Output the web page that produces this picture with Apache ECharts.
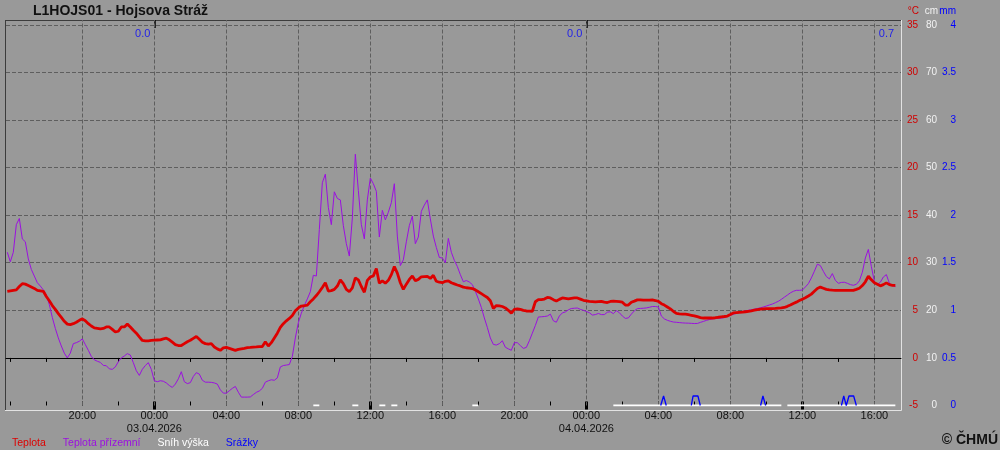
<!DOCTYPE html>
<html><head><meta charset="utf-8">
<script src="https://cdn.jsdelivr.net/npm/echarts@6/dist/echarts.min.js"></script>
<style>html,body{margin:0;padding:0;background:#999999}#c{width:1000px;height:450px}</style>
</head><body><div id="c"></div>
<script>
// time in hours relative to 03.04.2026 00:00; first reading 02.04.2026 15:50, every 10 min
const startHour = -8 - 10 / 60;
const stepHours = 10 / 60;

const tempAir = [
  7.0, 7.05, 7.1, 7.15, 7.5, 7.8, 7.75, 7.6, 7.45, 7.3, 7.1, 7.05,
  7.0, 6.45, 6.0, 5.5, 5.1, 4.65, 4.25, 3.85, 3.55, 3.5, 3.6, 3.75,
  3.95, 4.1, 3.9, 3.6, 3.35, 3.15, 3.1, 3.05, 3.1, 3.25, 3.25, 3.0,
  2.72, 2.8, 3.25, 3.25, 3.55, 3.25, 2.9, 2.6, 2.2, 1.83, 1.78, 1.8,
  1.84, 1.86, 1.88, 1.9, 2.0, 2.07, 1.9, 1.65, 1.4, 1.3, 1.3, 1.5,
  1.7, 1.85, 2.05, 2.25, 1.95, 1.65, 1.5, 1.45, 1.5, 1.15, 0.95, 0.8,
  1.05, 1.1, 1.0, 0.9, 0.8, 0.9, 0.95, 1.0, 1.07, 1.1, 1.14, 1.15,
  1.18, 1.2, 1.7, 1.25, 1.6, 2.1, 2.6, 3.2, 3.6, 3.9, 4.15, 4.45,
  4.95, 5.25, 5.45, 5.48, 5.55, 5.9, 6.2, 6.55, 6.95, 7.4, 7.9, 7.03,
  7.07, 7.2, 7.55, 8.2, 7.8, 7.2, 6.95, 7.35, 8.4, 8.2, 7.5, 6.9,
  8.15, 8.5, 8.62, 9.4, 7.85, 8.1, 7.85, 8.15, 8.75, 9.6, 8.9, 7.9,
  7.2, 7.75, 8.25, 8.6, 8.1, 8.25, 8.52, 8.55, 8.57, 8.35, 8.68, 8.05,
  7.95, 7.9, 8.05, 8.1, 7.9, 7.78, 7.66, 7.56, 7.44, 7.37, 7.33, 7.29,
  7.15, 6.95, 6.75, 6.55, 6.35, 6.0, 5.2, 5.5, 5.47, 5.4, 5.25, 5.0,
  4.7, 5.1, 5.15, 5.1, 5.0, 4.93, 4.92, 4.9, 5.9, 6.12, 6.12, 6.18,
  6.35, 6.3, 6.12, 5.97, 6.15, 6.3, 6.25, 6.2, 6.25, 6.3, 6.3, 6.18,
  6.05, 6.0, 5.95, 5.92, 5.88, 5.92, 5.95, 5.87, 5.82, 5.93, 5.97, 5.95,
  5.92, 5.85, 5.55, 5.55, 5.85, 5.97, 6.1, 6.1, 6.07, 6.06, 6.08, 6.1,
  6.03, 5.95, 5.7, 5.55, 5.35, 5.15, 4.9, 4.67, 4.63, 4.61, 4.59, 4.54,
  4.48, 4.42, 4.33, 4.23, 4.19, 4.19, 4.19, 4.19, 4.22, 4.27, 4.31, 4.35,
  4.4, 4.55, 4.72, 4.75, 4.78, 4.81, 4.85, 4.9, 4.95, 5.02, 5.08, 5.12,
  5.16, 5.18, 5.18, 5.18, 5.2, 5.23, 5.26, 5.3, 5.42, 5.55, 5.72, 5.86,
  6.02, 6.17, 6.32, 6.5, 6.7, 7.0, 7.3, 7.44, 7.32, 7.2, 7.15, 7.12,
  7.1, 7.1, 7.1, 7.1, 7.1, 7.1, 7.1, 7.2, 7.32, 7.6, 8.0, 8.58,
  8.2, 7.9, 7.73, 7.57, 7.7, 7.88, 7.7, 7.63, 7.63
];

const tempGround = [
  11.1, 10.1, 11.1, 14.0, 14.65, 12.5, 12.2, 10.4, 9.3, 8.6, 7.9, 7.55,
  7.15, 6.6, 5.6, 4.25, 3.1, 2.1, 1.25, 0.5, 0.0, 0.5, 1.5, 1.6,
  1.75, 2.0, 1.4, 0.8, 0.15, -0.2, -0.35, -0.47, -0.79, -0.82, -1.15, -1.2,
  -0.95, -0.4, 0.0, 0.2, 0.45, 0.3, -0.5, -1.35, -1.84, -1.2, -0.8, -0.5,
  -1.2, -2.4, -2.5, -2.4, -2.45, -2.63, -2.9, -3.1, -2.75, -2.2, -1.45, -2.5,
  -2.7, -2.6, -1.95, -1.55, -1.7, -2.35, -2.55, -2.55, -2.57, -2.63, -2.75, -3.35,
  -3.7, -3.7, -3.45, -3.2, -3.0, -3.6, -4.12, -4.12, -4.12, -4.1, -3.85, -3.62,
  -3.47, -3.2, -2.55, -2.4, -2.3, -2.35, -2.1, -0.95, -0.8, -0.75, -0.7, 0.15,
  2.1, 3.7, 4.7, 5.5, 6.2, 6.95, 8.68, 8.6, 13.5, 18.4, 19.3, 15.8,
  14.0, 17.45, 16.75, 16.6, 13.9, 12.0, 10.7, 14.7, 21.4, 17.6, 14.0, 12.5,
  16.6, 18.9, 18.3, 17.5, 12.7, 15.5, 14.5, 15.3, 16.3, 18.3, 12.8, 9.7,
  10.3, 12.2, 13.9, 14.9, 12.0, 12.7, 15.4, 16.05, 16.6, 14.6, 12.8, 11.6,
  10.55, 10.5, 10.0, 12.55, 11.1, 10.25, 9.6, 8.75, 8.0, 8.13, 7.97, 7.7,
  7.0, 6.2, 5.3, 4.2, 3.2, 2.1, 1.42, 1.35, 1.5, 1.8, 1.12, 0.95,
  0.8, 1.6, 1.6, 1.3, 1.0, 1.1, 1.8, 2.6, 3.4, 4.3, 4.32, 4.35,
  4.4, 4.6, 3.9, 3.75, 4.4, 4.73, 4.83, 5.05, 5.19, 5.22, 5.24, 5.1,
  5.0, 4.88, 4.75, 4.5, 4.55, 4.67, 4.55, 4.55, 4.8, 4.85, 4.65, 4.97,
  4.75, 4.4, 4.15, 4.2, 4.6, 4.95, 5.18, 5.2, 5.22, 5.25, 5.32, 5.4,
  5.4, 5.35, 4.4, 4.1, 3.95, 3.85, 3.77, 3.74, 3.71, 3.68, 3.66, 3.65,
  3.63, 3.61, 3.62, 3.73, 3.83, 3.94, 4.03, 4.1, 4.13, 4.15, 4.18, 4.23,
  4.36, 4.48, 4.58, 4.68, 4.77, 4.87, 4.93, 5.0, 5.06, 5.12, 5.19, 5.26,
  5.35, 5.45, 5.56, 5.66, 5.8, 5.95, 6.15, 6.38, 6.6, 6.83, 7.0, 7.1,
  7.1, 7.13, 7.45, 7.8, 8.4, 9.1, 9.85, 9.7, 9.1, 8.55, 8.3, 8.86,
  8.15, 7.84, 7.93, 7.95, 7.84, 7.7, 7.63, 7.73, 8.1, 9.0, 10.5, 11.4,
  9.6, 8.05, 7.73, 7.95, 8.5, 8.75, 7.85, 7.6, 7.5
];

// snow depth readings (cm) available only in these periods [from, to] (hours)
const snowPeriods = [[8.8333, 9.1667], [11.0, 11.3333], [12.5, 12.8333], [13.1667, 13.5],
  [17.6667, 18.0], [25.5, 34.8333], [35.1667, 41.1667]];
const snowDepthCm = [0, 0, 0, 0, 0, 0, 0];

// precipitation (mm), null separates events
const precipTimes = [28.13, 28.29, 28.44, null, 29.83, 29.93, 30.2, 30.33, null,
  33.68, 33.81, 33.96, null, 38.17, 38.3, 38.44, 38.59, 38.85, 39.0];
const precipMm = [0, 0.1, 0, null, 0, 0.1, 0.1, 0, null,
  0, 0.1, 0, null, 0, 0.1, 0, 0.1, 0.1, 0];

// daily precipitation totals (mm)
const dayTotalHours = [0, 24, 41.32];
const dayTotalMm = [0.0, 0.0, 0.7];

const xMin = -8.24, xMax = 41.48;
const xTickHours = [-8, -6, -4, -2, 0, 2, 4, 6, 8, 10, 12, 14, 16, 18, 20, 22, 24, 26, 28, 30, 32, 34, 36, 38, 40];
const xMajorTickHours = [0, 12, 24, 36];
const xDayHours = [0, 24];
const xLabelHours = [-4, 0, 4, 8, 12, 16, 20, 24, 28, 32, 36, 40];
const xLabelTexts = ['20:00', '00:00\n03.04.2026', '04:00', '08:00', '12:00', '16:00',
  '20:00', '00:00\n04.04.2026', '04:00', '08:00', '12:00', '16:00'];
const yGridTemps = [5, 10, 15, 20, 25, 30, 35];

const FONT = 'Liberation Sans';
const C_RED = '#dd0000', C_PUR = '#9b10e0', C_WHITE = '#ffffff', C_BLUE = '#0000ff';

const toXY = arr => arr.map((v, i) => [startHour + i * stepHours, v]);
const snowData = [];
snowPeriods.forEach((p, k) => {
  const n = Math.round((p[1] - p[0]) / stepHours);
  for (let i = 0; i <= n; i++) snowData.push([p[0] + i * stepHours, snowDepthCm[k]]);
  snowData.push([p[1], '-']);
});
const precipData = precipTimes.map((t, i) => t === null ? [precipTimes[i - 1], '-'] : [t, precipMm[i]]);

function xLabelFmt(v) {
  const i = xLabelHours.findIndex(h => Math.abs(h - v) < 1e-6);
  return i >= 0 ? xLabelTexts[i] : '';
}
const baseX = {type: 'value', min: xMin, max: xMax, gridIndex: 0, splitLine: {show: false}};
const hiddenAxis = (extra) => Object.assign({}, baseX, {
  position: 'bottom', axisLine: {show: false}, axisLabel: {show: false}
}, extra);

const chart = echarts.init(document.getElementById('c'), null, {renderer: 'canvas'});
chart.setOption({
  animation: false,
  backgroundColor: '#999999',
  textStyle: {fontFamily: FONT},
  title: {text: 'L1HOJS01 - Hojsova Stráž', left: 33, top: 4, padding: 0,
    textStyle: {fontFamily: FONT, fontSize: 14, fontWeight: 'bold', color: '#111'}},
  legend: {
    left: 2, top: 433, itemWidth: 0, itemHeight: 0, itemGap: 12, selectedMode: false, icon: 'none',
    textStyle: {fontFamily: FONT, fontSize: 10.5},
    data: [
      {name: 'Teplota', textStyle: {color: C_RED}},
      {name: 'Teplota přízemní', textStyle: {color: C_PUR}},
      {name: 'Sníh výška', textStyle: {color: C_WHITE}},
      {name: 'Srážky', textStyle: {color: C_BLUE}}
    ]
  },
  grid: {left: 6, right: 99, top: 20, bottom: 44.5, containLabel: false},
  xAxis: [
    Object.assign({}, baseX, {
      position: 'bottom',
      axisLine: {show: true, lineStyle: {color: '#000', width: 1}},
      axisTick: {show: true, customValues: xTickHours, length: 4, inside: false, lineStyle: {color: '#000', width: 1}},
      axisLabel: {show: true, customValues: xLabelHours, formatter: xLabelFmt, margin: 4,
        fontFamily: FONT, fontSize: 11, lineHeight: 13, color: '#111'}
    }),
    hiddenAxis({axisTick: {show: true, customValues: xTickHours, length: 4, inside: true, lineStyle: {color: '#000', width: 1}}}),
    hiddenAxis({axisTick: {show: true, customValues: xMajorTickHours, length: 4, inside: true, lineStyle: {color: '#000', width: 3}}}),
    hiddenAxis({axisTick: {show: true, customValues: xMajorTickHours, length: 4, inside: false, lineStyle: {color: '#000', width: 3}}}),
    Object.assign({}, baseX, {position: 'top', axisLine: {show: false}, axisLabel: {show: false},
      axisTick: {show: true, customValues: xDayHours, length: 8, inside: true, lineStyle: {color: '#000', width: 1.5}}})
  ],
  yAxis: [
    {type: 'value', position: 'right', min: -5, max: 35.5, interval: 5,
      axisLine: {show: false}, axisTick: {show: false}, splitLine: {show: false},
      axisLabel: {align: 'right', margin: 17, color: '#d00000', fontFamily: FONT, fontSize: 10,
        formatter: v => (Math.abs(v % 5) < 1e-6 ? String(v) : '')}},
    {type: 'value', position: 'right', min: 0, max: 81, interval: 10,
      axisLine: {show: false}, axisTick: {show: false}, splitLine: {show: false},
      axisLabel: {align: 'right', margin: 36, color: '#f2f2f2', fontFamily: FONT, fontSize: 10,
        formatter: v => (Math.abs(v % 10) < 1e-6 ? String(v) : '')}},
    {type: 'value', position: 'right', min: 0, max: 4.05, interval: 0.5,
      axisLine: {show: false}, axisTick: {show: false}, splitLine: {show: false},
      axisLabel: {align: 'right', margin: 55, color: C_BLUE, fontFamily: FONT, fontSize: 10,
        formatter: v => (Math.abs((v * 2) % 1) < 1e-6 ? String(v) : '')}}
  ],
  series: [
    {
      name: 'Teplota přízemní', type: 'line', xAxisIndex: 0, yAxisIndex: 0, z: 3,
      data: toXY(tempGround), showSymbol: false, symbol: 'none',
      lineStyle: {color: C_PUR, width: 1}, itemStyle: {color: C_PUR},
      markLine: {
        silent: true, z: 1, symbol: ['none', 'none'], label: {show: false}, animation: false,
        data: [
          ...xLabelHours.map(h => ({xAxis: h, lineStyle: {color: '#5e5e5e', type: [4, 2], width: 1}})),
          ...yGridTemps.map(v => ({yAxis: v, lineStyle: {color: '#5e5e5e', type: [4, 2], width: 1}})),
          {yAxis: 0, lineStyle: {color: '#000', type: 'solid', width: 1.2}}
        ]
      }
    },
    {
      name: 'Teplota', type: 'line', xAxisIndex: 0, yAxisIndex: 0, z: 4,
      data: toXY(tempAir), showSymbol: false, symbol: 'none',
      lineStyle: {color: C_RED, width: 2.8}, itemStyle: {color: C_RED}
    },
    {
      name: 'Sníh výška', type: 'line', xAxisIndex: 0, yAxisIndex: 1, z: 5,
      data: snowData, showSymbol: false, symbol: 'none', connectNulls: false,
      lineStyle: {color: C_WHITE, width: 2}, itemStyle: {color: C_WHITE}
    },
    {
      name: 'Srážky', type: 'line', xAxisIndex: 0, yAxisIndex: 2, z: 6,
      data: precipData, showSymbol: false, symbol: 'none', connectNulls: false,
      lineStyle: {color: C_BLUE, width: 1.3}, itemStyle: {color: C_BLUE}
    },
    {
      name: 'Denní srážky', type: 'scatter', xAxisIndex: 0, yAxisIndex: 0, z: 6,
      symbolSize: 0, silent: true,
      data: dayTotalHours.map(h => [h, 34]),
      label: {show: true, position: 'left', distance: 4, color: C_BLUE, fontFamily: FONT, fontSize: 11,
        formatter: p => dayTotalMm[p.dataIndex].toFixed(1)}
    }
  ],
  graphic: [
    {type: 'line', silent: true, shape: {x1: 5.5, y1: 20, x2: 5.5, y2: 410}, style: {stroke: '#3c3c3c', lineWidth: 1}},
    {type: 'line', silent: true, shape: {x1: 5, y1: 20.5, x2: 901, y2: 20.5}, style: {stroke: '#3c3c3c', lineWidth: 1}},
    {type: 'line', silent: true, shape: {x1: 901.5, y1: 20, x2: 901.5, y2: 410.5}, style: {stroke: '#e2e2e2', lineWidth: 1}},
    {type: 'line', silent: true, shape: {x1: 5, y1: 410.5, x2: 901.5, y2: 410.5}, style: {stroke: '#e2e2e2', lineWidth: 1}},
    {type: 'text', silent: true, style: {text: '°C', x: 919, y: 11, align: 'right', verticalAlign: 'middle', fill: '#d00000', font: '10px "Liberation Sans"'}},
    {type: 'text', silent: true, style: {text: 'cm', x: 938, y: 11, align: 'right', verticalAlign: 'middle', fill: '#f2f2f2', font: '10px "Liberation Sans"'}},
    {type: 'text', silent: true, style: {text: 'mm', x: 956, y: 11, align: 'right', verticalAlign: 'middle', fill: C_BLUE, font: '10px "Liberation Sans"'}},
    {type: 'text', silent: true, style: {text: '© ČHMÚ', x: 998, y: 440, align: 'right', verticalAlign: 'middle', fill: '#111', font: 'bold 14px "Liberation Sans"'}}
  ]
});
</script>
</body></html>
